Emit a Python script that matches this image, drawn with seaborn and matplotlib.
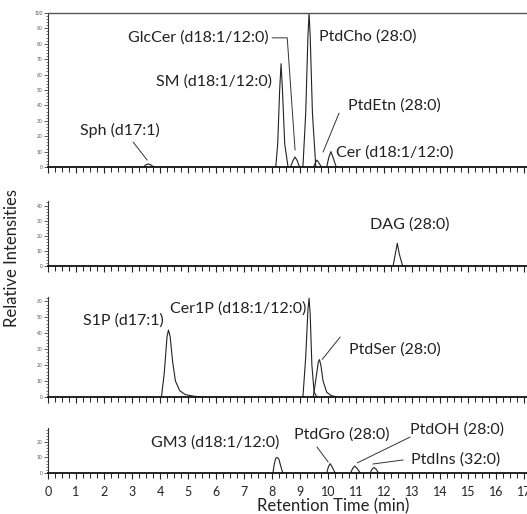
import numpy as np
import pandas as pd
import matplotlib as mpl
mpl.use('Agg')
import matplotlib.pyplot as plt
from matplotlib.ticker import MultipleLocator
import seaborn as sns

sns.set_theme(style='white')
plt.rcParams['font.family'] = ['Lato', 'DejaVu Sans']

# 峰形 (保留时间 min, 相对强度) —— 从原图读取
# 面板1
sph = [(3.40, 0), (3.50, 1.5), (3.58, 2), (3.66, 1.5), (3.78, 0)]
sm = [(8.13, 0), (8.20, 15), (8.27, 50), (8.32, 67), (8.37, 50), (8.45, 15), (8.57, 0)]
glccer = [(8.66, 0), (8.74, 4), (8.82, 6.5), (8.90, 4), (8.98, 0)]
ptdcho = [(9.10, 0), (9.20, 35), (9.28, 85), (9.32, 100), (9.36, 85), (9.44, 35), (9.56, 0)]
ptdetn = [(9.48, 0), (9.55, 3), (9.60, 4.5), (9.66, 3), (9.76, 0)]
cer = [(9.95, 0), (10.02, 6), (10.10, 10), (10.18, 6), (10.29, 0)]
# 面板2
dag = [(12.32, 0), (12.40, 8), (12.47, 15), (12.54, 8), (12.66, 0)]
# 面板3
s1p = [(4.05, 0), (4.15, 15), (4.25, 38), (4.30, 42), (4.36, 38), (4.45, 22),
       (4.55, 10), (4.70, 4), (4.90, 1.5), (5.20, 0.5), (5.50, 0)]
cer1p = [(9.10, 0), (9.20, 25), (9.28, 55), (9.32, 62), (9.36, 52), (9.42, 20), (9.50, 3), (9.60, 0)]
ptdser = [(9.47, 0), (9.57, 12), (9.65, 22), (9.69, 23.5), (9.74, 20), (9.82, 10),
          (9.95, 3), (10.10, 1), (10.30, 0)]
# 面板4
gm3 = [(8.03, 0), (8.08, 6), (8.13, 9.5), (8.18, 10), (8.24, 9), (8.30, 5), (8.38, 0)]
ptdgro = [(9.95, 0), (10.01, 4), (10.07, 6), (10.14, 4), (10.25, 0)]
ptdoh = [(10.80, 0), (10.88, 3), (10.95, 4.5), (11.03, 3), (11.15, 0)]
ptdins = [(11.50, 0), (11.57, 2.5), (11.64, 3.5), (11.71, 2.5), (11.80, 0)]

panel_peaks = [
    [sph, sm, glccer, ptdcho, ptdetn, cer],
    [dag],
    [s1p, cer1p, ptdser],
    [gm3, ptdgro, ptdoh, ptdins],
]
panel_ylim = [100, 43, 63, 29]

# 标注: (文字, x, y, 引线点)
labels1 = [
    ('Sph (d17:1)', 2.57, 24, [(3.04, 16.2), (3.54, 4.5)]),
    ('GlcCer (d18:1/12:0)', 5.36, 83.8, [(8.0, 83.8), (8.54, 83.8), (8.82, 11)]),
    ('SM (d18:1/12:0)', 5.93, 55.2, None),
    ('PtdCho (28:0)', 11.43, 84.4, None),
    ('PtdEtn (28:0)', 12.36, 39.6, [(10.39, 35), (9.82, 9.7)]),
    ('Cer (d18:1/12:0)', 12.39, 9.7, None),
]
labels2 = [('DAG (28:0)', 12.93, 27.3, None)]
labels3 = [
    ('S1P (d17:1)', 2.68, 47.8, None),
    ('Cer1P (d18:1/12:0)', 6.79, 55.4, None),
    ('PtdSer (28:0)', 12.39, 30, [(10.43, 37.6), (9.79, 23.6)]),
]
labels4 = [
    ('GM3 (d18:1/12:0)', 5.96, 19.4, None),
    ('PtdGro (28:0)', 10.5, 24.5, [(9.6, 16.8), (10.0, 7.1)]),
    ('PtdOH (28:0)', 14.6, 27.7, [(12.93, 23.2), (11.04, 6.5)]),
    ('PtdIns (32:0)', 14.54, 8.4, [(12.68, 8.4), (11.6, 5.8)]),
]
panel_labels = [labels1, labels2, labels3, labels4]

x_ticks = list(range(0, 18))

fig = plt.figure(figsize=(5.27, 5.14), dpi=100)
# [left, bottom, width, height]
boxes = [
    [0.0911, 0.675, 0.9089, 0.300],
    [0.0911, 0.4825, 0.9089, 0.1265],
    [0.0911, 0.2276, 0.9089, 0.1954],
    [0.0911, 0.0798, 0.9089, 0.0875],
]

for i, box in enumerate(boxes):
    ax = fig.add_axes(box)
    for pk in panel_peaks[i]:
        df = pd.DataFrame(pk, columns=['t', 'inten'])
        sns.lineplot(data=df, x='t', y='inten', ax=ax, color='#222222', lw=0.8,
                     estimator=None, sort=False)
    ax.set_xlim(0, 17.1)
    ax.set_ylim(0, panel_ylim[i])
    ax.set_xlabel('')
    ax.set_ylabel('')
    ax.spines['right'].set_visible(False)
    ax.spines['top'].set_visible(i == 0)
    ax.spines['top'].set_color('#555555')
    ax.spines['top'].set_linewidth(1.0)
    ax.spines['left'].set_color('#333333')
    ax.spines['left'].set_linewidth(0.8)
    ax.spines['bottom'].set_color('#111111')
    ax.spines['bottom'].set_linewidth(1.3)
    ax.xaxis.set_major_locator(MultipleLocator(1))
    ax.xaxis.set_minor_locator(MultipleLocator(0.25))
    ax.yaxis.set_major_locator(MultipleLocator(10))
    ax.yaxis.set_minor_locator(MultipleLocator(2))
    ax.tick_params(axis='x', which='major', direction='out', length=4.5, width=0.8,
                   color='#222222', bottom=True, labelsize=9, pad=5)
    ax.tick_params(axis='x', which='minor', direction='out', length=3.5, width=0.7,
                   color='#222222', bottom=True)
    ax.tick_params(axis='y', which='major', direction='out', length=3, width=0.6,
                   color='#444444', left=True, labelsize=3.5, pad=1, labelcolor='#555555')
    ax.tick_params(axis='y', which='minor', direction='out', length=1.5, width=0.5,
                   color='#444444', left=True)
    if i < 3:
        ax.set_xticklabels([])
    else:
        ax.set_xticks(x_ticks)
        ax.set_xticklabels([str(v) for v in x_ticks], color='#222222')
    for txt, tx, ty, lead in panel_labels[i]:
        ax.text(tx, ty, txt, ha='center', va='center', fontsize=11.5, color='#222222')
        if lead:
            ax.plot([p[0] for p in lead], [p[1] for p in lead], color='#333333',
                    lw=0.7, clip_on=False)

fig.text(0.023, 0.498, 'Relative Intensities', rotation=90, ha='center', va='center',
         fontsize=12, color='#222222')
fig.text(333 / 527, 1 - 506 / 514, 'Retention Time (min)', ha='center', va='center',
         fontsize=12, color='#222222')

fig.savefig('out.png', dpi=100)
